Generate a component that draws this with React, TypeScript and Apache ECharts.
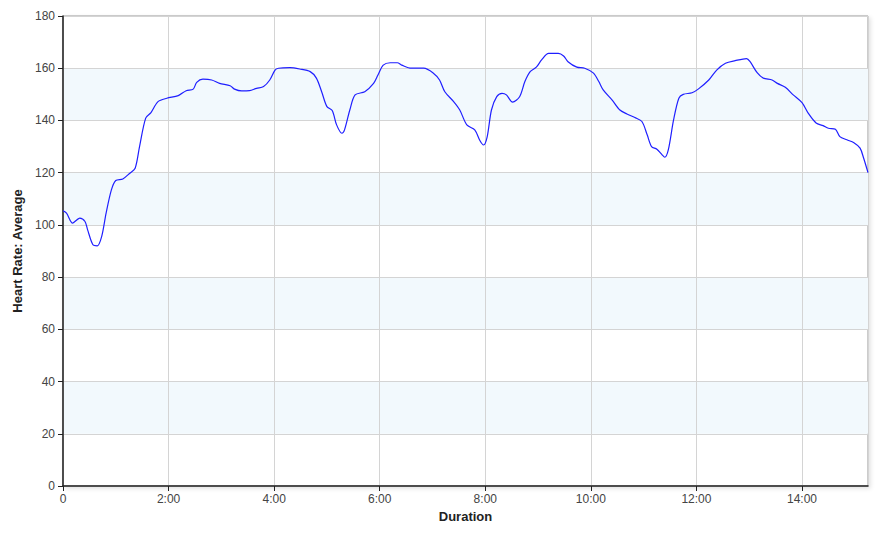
import React, { useEffect, useRef } from "react";
import * as echarts from "echarts";

const seconds = [0, 4, 11, 19, 25, 28, 34, 39, 44, 49, 55, 60, 68, 76, 82, 87, 94, 100, 108, 118, 131, 140, 148, 152, 159, 169, 178, 190, 195, 203, 212, 220, 228, 235, 241, 245, 258, 269, 281, 288, 294, 300, 306, 311, 317, 320, 326, 332, 343, 353, 358, 364, 372, 380, 385, 396, 410, 421, 428, 434, 444, 451, 459, 468, 474, 478, 482, 487, 493, 499, 504, 511, 519, 525, 531, 538, 544, 552, 563, 569, 574, 584, 593, 603, 609, 614, 624, 633, 641, 650, 658, 664, 669, 675, 681, 684, 688, 694, 700, 705, 715, 722, 734, 743, 753, 764, 777, 781, 789, 796, 806, 812, 821, 830, 840, 847, 856, 864, 870, 878, 883, 891, 899, 906, 910, 915];
const heartRate = [105.4, 104.5, 100.7, 102.6, 101.3, 98.1, 92.4, 92, 95.6, 104.5, 113.4, 117, 117.6, 119.8, 121.7, 130, 140.9, 143, 147.2, 148.5, 149.5, 151.4, 152, 154.6, 155.8, 155.5, 154.2, 153.3, 152, 151.3, 151.4, 152.3, 153, 155.5, 159.3, 160, 160.2, 159.7, 158.7, 156.2, 151, 145.3, 143.8, 138.3, 135.1, 136.4, 144, 149.8, 151, 154.2, 157.4, 161.2, 162.1, 162.1, 161.2, 160, 160, 158.1, 155.5, 151, 147.2, 144, 138.3, 136.4, 132.2, 130.6, 133.5, 144, 149.1, 150.4, 149.8, 147, 149.1, 154.9, 158.7, 160.4, 163.2, 165.7, 165.7, 164.7, 162.5, 160.4, 160, 158.1, 154.9, 151.7, 147.9, 144, 142.5, 141.1, 139.6, 134.5, 130, 129, 126.8, 125.9, 128.7, 140.2, 148.5, 150, 150.6, 152, 155.5, 159.3, 161.9, 162.9, 163.7, 162.5, 158.3, 156.2, 155.5, 154.2, 152.7, 149.8, 146.8, 142.8, 139, 138, 137, 136.6, 133.8, 132.6, 131.5, 129.4, 125.6, 120];
const yTicks = [0, 20, 40, 60, 80, 100, 120, 140, 160, 180];
const xMax = 915;

const fmtDuration = (v: number) => {
  if (v === 0) return "0";
  if (v % 120 !== 0) return "";
  const m = Math.floor(v / 60);
  const s = v % 60;
  return `${m}:${s < 10 ? "0" + s : s}`;
};

export default function App() {
  const ref = useRef<HTMLDivElement>(null);
  useEffect(() => {
    if (!ref.current) return;
    const chart = echarts.init(ref.current, undefined, { renderer: "svg" });
    const font = "'Liberation Sans', Arial, sans-serif";
    chart.setOption({
      animation: false,
      textStyle: { fontFamily: font },
      grid: {
        left: 63,
        top: 16,
        right: 15,
        bottom: 47,
        show: true,
        backgroundColor: "#ffffff",
        borderColor: "#999999",
        borderWidth: 1,
        shadowColor: "rgba(0,0,0,0.12)",
        shadowBlur: 4,
        shadowOffsetX: 2,
        shadowOffsetY: 2,
      },
      xAxis: {
        type: "value",
        min: 0,
        max: xMax,
        interval: 120,
        name: "Duration",
        nameLocation: "middle",
        nameGap: 22,
        nameTextStyle: { fontWeight: "bold", fontSize: 13, color: "#222", fontFamily: font },
        axisLine: { show: true, onZero: false, lineStyle: { color: "#222", width: 1.5 } },
        axisTick: { show: true, length: 5, lineStyle: { color: "#222" } },
        axisLabel: { formatter: fmtDuration, color: "#444", fontSize: 12, margin: 7, showMaxLabel: false, fontFamily: font },
        splitLine: { show: true, lineStyle: { color: "#d4d4d4", width: 1 } },
      },
      yAxis: {
        type: "value",
        min: yTicks[0],
        max: yTicks[yTicks.length - 1],
        interval: 20,
        name: "Heart Rate: Average",
        nameLocation: "middle",
        nameGap: 35,
        nameTextStyle: { fontWeight: "bold", fontSize: 13, color: "#222", fontFamily: font },
        axisLine: { show: true, lineStyle: { color: "#222", width: 1.5 } },
        axisTick: { show: true, length: 5, lineStyle: { color: "#222" } },
        axisLabel: { color: "#444", fontSize: 12, margin: 8, fontFamily: font },
        splitLine: { show: true, lineStyle: { color: "#d4d4d4", width: 1 } },
        splitArea: { show: true, areaStyle: { color: ["rgba(255,255,255,0)", "#f2f9fd"] } },
      },
      series: [
        {
          type: "line",
          data: seconds.map((t, i) => [t, heartRate[i]]),
          showSymbol: false,
          smooth: 0.3,
          lineStyle: { color: "#1f1fff", width: 1.2 },
        },
      ],
    });
    return () => chart.dispose();
  }, []);
  return <div ref={ref} style={{ width: 883, height: 533, position: "absolute", left: 0, top: 0 }} />;
}
